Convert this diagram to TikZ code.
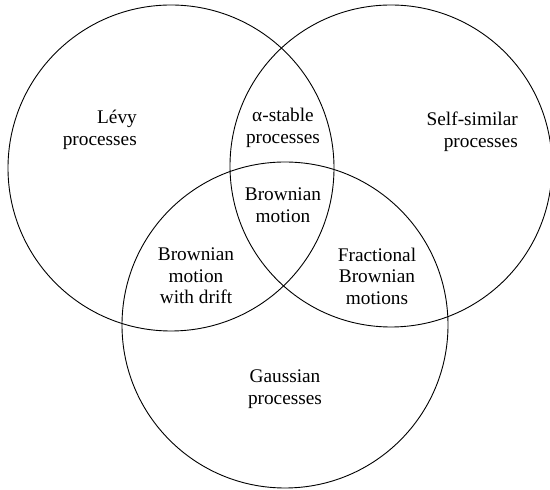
\documentclass[tikz,border=0pt]{standalone}
\usepackage{fontspec}
\setmainfont{Liberation Serif}
\begin{document}
\begin{tikzpicture}[x=1pt, y=1pt,
    S/.style={circle, draw=black, line width=0.9pt, inner sep=0pt},
    T/.style={inner sep=0pt, font=\fontsize{19.3}{21.5}\selectfont}]

    \useasboundingbox (0,0) rectangle (550,490);

    % Insiemi
    \node[S, minimum size=326pt] (levy) at (171,322) {};
    \node[S, minimum size=322pt] (selfsim) at (391,324) {};
    \node[S, minimum size=326pt] (gauss) at (285,165) {};

    % Etichette
    \node[T, align=right, anchor=east] (tlevy) at (137,360) {Lévy\\processes};
    \node[T, align=right, anchor=east] (tself) at (518,358) {Self-similar\\processes};
    \node[T, align=center] (tstable) at (283,362) {α-stable\\processes};
    \node[T, align=center] (tbm) at (283,285) {Brownian\\motion};
    \node[T, align=center] (tdrift) at (196,214) {Brownian\\motion\\with drift};
    \node[T, align=center] (tfbm) at (377,214) {Fractional\\Brownian\\motions};
    \node[T, align=center] (tgauss) at (285,101) {Gaussian\\processes};
  \end{tikzpicture}
\end{document}
